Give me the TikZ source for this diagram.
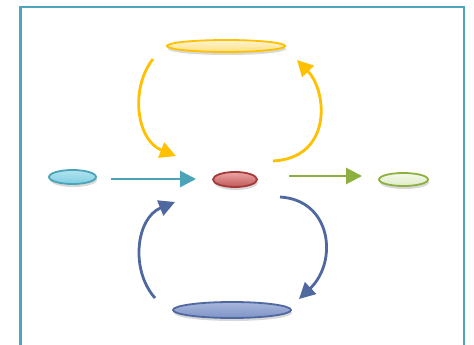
\documentclass[tikz,border=0pt]{standalone}
\usetikzlibrary{shapes.geometric,shadows,arrows.meta}
\definecolor{frameC}{HTML}{4BA6BE}
\definecolor{yel}{HTML}{FFC000}
\definecolor{yelF}{HTML}{FFEDB5}
\definecolor{teal2}{HTML}{4BA3B8}
\definecolor{tealF}{HTML}{7FCFE3}
\definecolor{redB}{HTML}{A63A38}
\definecolor{redF}{HTML}{E06A68}
\definecolor{grn}{HTML}{8DB040}
\definecolor{grnF}{HTML}{EEF7E0}
\definecolor{navy}{HTML}{4F68A0}
\definecolor{navyF}{HTML}{8398CC}
\tikzset{
  blob/.style={ellipse, inner sep=0pt, line width=1.8pt,
    drop shadow={shadow xshift=1pt, shadow yshift=-3pt, opacity=0.3}},
  conn/.style={line width=2.8pt, -{Triangle[length=16pt,width=16pt]}},
}
\begin{document}
\begin{tikzpicture}[x=1pt,y=-1pt]
\useasboundingbox (0,0) rectangle (474,345);
\fill[white] (0,0) rectangle (474,345);
\draw[frameC, line width=2.5pt, fill=white,
  drop shadow={shadow xshift=0pt, shadow yshift=-4pt, opacity=0.12}]
  (20.5,7) rectangle (464,370);
% nodes
\node[blob, draw=yel, top color=yelF!60!white, bottom color=yelF!70!yel,
  minimum width=118pt, minimum height=12pt] (top) at (226,46) {};
\node[blob, draw=teal2, top color=tealF!60!white, bottom color=tealF,
  minimum width=47pt, minimum height=14pt] (src) at (72.5,177) {};
\node[blob, draw=redB, top color=redF!60!white, bottom color=redF!85!black,
  minimum width=44pt, minimum height=15pt] (mid) at (235,179.5) {};
\node[blob, draw=grn, top color=grnF!70!white, bottom color=grnF!85!grn,
  minimum width=49pt, minimum height=13pt] (dst) at (403.5,179.5) {};
\node[blob, draw=navy, top color=navyF!70!white, bottom color=navyF!90!navy,
  minimum width=118pt, minimum height=16pt] (bot) at (232,310) {};
% connector ends
\coordinate (ts) at (111,179);  \coordinate (te) at (196,179);
\coordinate (gs) at (289,176);  \coordinate (ge) at (362,176);
\coordinate (y1s) at (153,59);  \coordinate (y1e) at (176,156);
\coordinate (y2s) at (273,161); \coordinate (y2e) at (297,60);
\coordinate (n1s) at (155,298); \coordinate (n1e) at (175,202);
\coordinate (n2s) at (280,197); \coordinate (n2e) at (299,299);
% connectors
\draw[conn, teal2] (ts) -- (te);
\draw[conn, grn] (gs) -- (ge);
\draw[conn, yel] (y1s) .. controls (130,88) and (136,140) .. (y1e);
\draw[conn, yel] (y2s) .. controls (332,158) and (328,92) .. (y2e);
\draw[conn, navy] (n1s) .. controls (130,270) and (136,218) .. (n1e);
\draw[conn, navy] (n2s) .. controls (332,200) and (338,262) .. (n2e);
\end{tikzpicture}
\end{document}
